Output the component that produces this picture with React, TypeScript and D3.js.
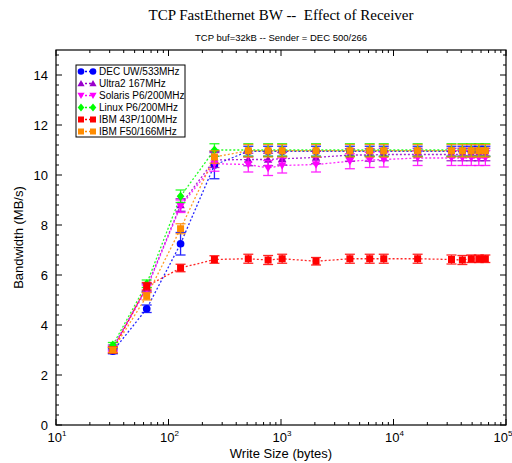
import React from "react";
import * as d3 from "d3";

const writeSizes = [32, 64, 128, 256, 512, 768, 1024, 2048, 4096, 6144, 8192, 16384, 32768, 40960, 49152, 57344, 65536];

const seriesNames = ["DEC UW/533MHz", "Ultra2 167MHz", "Solaris P6/200MHz", "Linux P6/200MHz", "IBM 43P/100MHz", "IBM F50/166MHz"];
const seriesColors = ["#0000ff", "#9900cc", "#ff00ff", "#00ff00", "#ff0000", "#ff8c00"];
const seriesShapes = ["circle", "triangle", "triangleDown", "diamond", "square", "square"];

const decValues = [2.95, 4.65, 7.25, 10.4, 10.95, 10.95, 10.95, 10.95, 10.95, 10.95, 10.95, 10.95, 10.95, 10.95, 10.95, 10.95, 10.95];
const decErrors = [0.1, 0.15, 0.45, 0.55, 0.2, 0.2, 0.2, 0.2, 0.2, 0.2, 0.2, 0.2, 0.2, 0.2, 0.2, 0.2, 0.2];
const ultraValues = [3.1, 5.5, 8.8, 10.6, 10.62, 10.62, 10.65, 10.7, 10.8, 10.8, 10.82, 10.82, 10.82, 10.82, 10.82, 10.82, 10.82];
const ultraErrors = [0.1, 0.15, 0.25, 0.3, 0.25, 0.25, 0.25, 0.25, 0.25, 0.25, 0.25, 0.25, 0.25, 0.25, 0.25, 0.25, 0.25];
const solarisValues = [3.05, 5.45, 8.75, 10.45, 10.42, 10.28, 10.38, 10.42, 10.55, 10.6, 10.62, 10.68, 10.68, 10.68, 10.68, 10.68, 10.68];
const solarisErrors = [0.1, 0.15, 0.25, 0.3, 0.3, 0.3, 0.3, 0.3, 0.3, 0.3, 0.3, 0.3, 0.3, 0.3, 0.3, 0.3, 0.3];
const linuxValues = [3.2, 5.65, 9.15, 11.0, 11.0, 11.0, 11.0, 11.0, 11.0, 11.0, 11.0, 11.0, 11.0, 11.0, 11.0, 11.0, 11.0];
const linuxErrors = [0.1, 0.15, 0.25, 0.25, 0.25, 0.25, 0.25, 0.25, 0.25, 0.25, 0.25, 0.25, 0.25, 0.25, 0.25, 0.25, 0.25];
const ibm43Values = [3.0, 5.55, 6.28, 6.62, 6.65, 6.6, 6.65, 6.55, 6.65, 6.65, 6.65, 6.65, 6.62, 6.6, 6.65, 6.65, 6.65];
const ibm43Errors = [0.12, 0.15, 0.15, 0.15, 0.18, 0.18, 0.18, 0.15, 0.18, 0.18, 0.18, 0.18, 0.18, 0.18, 0.15, 0.15, 0.15];
const ibmF50Values = [3.0, 5.15, 7.85, 10.72, 10.97, 10.97, 10.97, 10.97, 10.97, 10.97, 10.97, 10.97, 10.97, 10.97, 10.97, 10.97, 10.97];
const ibmF50Errors = [0.1, 0.15, 0.2, 0.25, 0.25, 0.25, 0.25, 0.25, 0.25, 0.25, 0.25, 0.25, 0.25, 0.25, 0.25, 0.25, 0.25];

const allValues = [decValues, ultraValues, solarisValues, linuxValues, ibm43Values, ibmF50Values];
const allErrors = [decErrors, ultraErrors, solarisErrors, linuxErrors, ibm43Errors, ibmF50Errors];

const yTicks = [0, 2, 4, 6, 8, 10, 12, 14];
const xDecades = [1, 2, 3, 4, 5];

const W = 512, H = 463;
const left = 56, right = 506, top = 50, bottom = 425;

function Marker({ shape, x, y, color, size }: { shape: string; x: number; y: number; color: string; size: number }) {
  const s = size;
  if (shape === "circle") return <circle cx={x} cy={y} r={s * 0.55} fill={color} />;
  if (shape === "square") return <rect x={x - s * 0.5} y={y - s * 0.5} width={s} height={s} fill={color} />;
  if (shape === "triangle")
    return <path d={`M${x},${y - s * 0.6}L${x + s * 0.6},${y + s * 0.45}L${x - s * 0.6},${y + s * 0.45}Z`} fill={color} />;
  if (shape === "triangleDown")
    return <path d={`M${x},${y + s * 0.6}L${x + s * 0.6},${y - s * 0.45}L${x - s * 0.6},${y - s * 0.45}Z`} fill={color} />;
  return <path d={`M${x},${y - s * 0.65}L${x + s * 0.55},${y}L${x},${y + s * 0.65}L${x - s * 0.55},${y}Z`} fill={color} />;
}

export default function App() {
  const x = d3.scaleLog().domain([10, 100000]).range([left, right]);
  const y = d3.scaleLinear().domain([0, 15]).range([bottom, top]);
  const line = d3.line<[number, number]>().x((d) => x(d[0])).y((d) => y(d[1]));

  const minorY = d3.range(0, 15.01, 0.4).filter((v) => Math.abs(v / 2 - Math.round(v / 2)) > 1e-6);
  const minorX: number[] = [];
  for (let e = 1; e < 5; e++) for (let m = 2; m <= 9; m++) minorX.push(m * Math.pow(10, e));

  const order = [0, 1, 2, 3, 4, 5];
  const sans = "Liberation Sans, Arial, sans-serif";

  return (
    <div style={{ position: "fixed", left: 0, top: 0, width: W, height: H, overflow: "hidden", background: "#fff" }}>
      <svg width={W} height={H} style={{ display: "block", background: "#fff" }}>
        <text x={281} y={20} textAnchor="middle" fontFamily="Liberation Serif, serif" fontSize={15} style={{ whiteSpace: "pre" }}>
          {"TCP FastEthernet BW --  Effect of Receiver"}
        </text>
        <text x={281} y={41} textAnchor="middle" fontFamily={sans} fontSize={9.5}>
          TCP buf=32kB -- Sender = DEC 500/266
        </text>

        {order.map((i) => (
          <path
            key={"l" + i}
            d={line(writeSizes.map((w, j) => [w, allValues[i][j]]) as [number, number][]) || ""}
            fill="none"
            stroke={seriesColors[i]}
            strokeWidth={1.3}
            strokeDasharray="2,2"
            opacity={0.85}
          />
        ))}
        {order.map((i) => (
          <g key={"m" + i}>
            {writeSizes.map((w, j) => {
              const cx = x(w);
              const v = allValues[i][j];
              const e = allErrors[i][j];
              const y1 = y(v + e), y2 = y(v - e);
              return (
                <g key={j} stroke={seriesColors[i]} strokeWidth={1.3} opacity={0.85}>
                  <line x1={cx} x2={cx} y1={y1} y2={y2} />
                  <line x1={cx - 5} x2={cx + 5} y1={y1} y2={y1} />
                  <line x1={cx - 5} x2={cx + 5} y1={y2} y2={y2} />
                </g>
              );
            })}
            {writeSizes.map((w, j) => (
              <Marker key={"k" + j} shape={seriesShapes[i]} x={x(w)} y={y(allValues[i][j])} color={seriesColors[i]} size={7} />
            ))}
          </g>
        ))}

        <rect x={left} y={top} width={right - left} height={bottom - top} fill="none" stroke="#000" strokeWidth={1.2} />

        {yTicks.map((t) => (
          <g key={"yt" + t}>
            <line x1={left} x2={left + 6} y1={y(t)} y2={y(t)} stroke="#000" />
            <line x1={right} x2={right - 6} y1={y(t)} y2={y(t)} stroke="#000" />
            <text x={left - 8} y={y(t) + 4.5} textAnchor="end" fontFamily={sans} fontSize={13}>
              {t}
            </text>
          </g>
        ))}
        {minorY.map((t) => (
          <g key={"ym" + t}>
            <line x1={left} x2={left + 3} y1={y(t)} y2={y(t)} stroke="#000" />
            <line x1={right} x2={right - 3} y1={y(t)} y2={y(t)} stroke="#000" />
          </g>
        ))}

        {xDecades.map((d) => {
          const px = x(Math.pow(10, d));
          return (
            <g key={"xt" + d}>
              <line x1={px} x2={px} y1={bottom} y2={bottom - 6} stroke="#000" />
              <line x1={px} x2={px} y1={top} y2={top + 6} stroke="#000" />
              <text x={d === 5 ? px - 3 : px + 1} y={442} textAnchor="middle" fontFamily={sans} fontSize={13}>
                10
                <tspan dy={-6} fontSize={8}>{d}</tspan>
              </text>
            </g>
          );
        })}
        {minorX.map((t) => (
          <g key={"xm" + t}>
            <line x1={x(t)} x2={x(t)} y1={bottom} y2={bottom - 3} stroke="#000" />
            <line x1={x(t)} x2={x(t)} y1={top} y2={top + 3} stroke="#000" />
          </g>
        ))}

        <text x={281} y={458} textAnchor="middle" fontFamily={sans} fontSize={13}>
          Write Size (bytes)
        </text>
        <text transform={`translate(23,${(top + bottom) / 2}) rotate(-90)`} textAnchor="middle" fontFamily={sans} fontSize={13}>
          Bandwidth (MB/s)
        </text>

        <rect x={76} y={65} width={109} height={72} fill="#fff" stroke="#000" strokeWidth={1} />
        {seriesNames.map((n, i) => {
          const ly = 71.5 + i * 12;
          return (
            <g key={"lg" + i}>
              <line x1={81} x2={93} y1={ly} y2={ly} stroke={seriesColors[i]} strokeWidth={1.3} strokeDasharray="2,2" />
              <Marker shape={seriesShapes[i]} x={81} y={ly} color={seriesColors[i]} size={6} />
              <Marker shape={seriesShapes[i]} x={93} y={ly} color={seriesColors[i]} size={6} />
              <text x={99} y={ly + 3.6} fontFamily={sans} fontSize={10}>
                {n}
              </text>
            </g>
          );
        })}
      </svg>
    </div>
  );
}
